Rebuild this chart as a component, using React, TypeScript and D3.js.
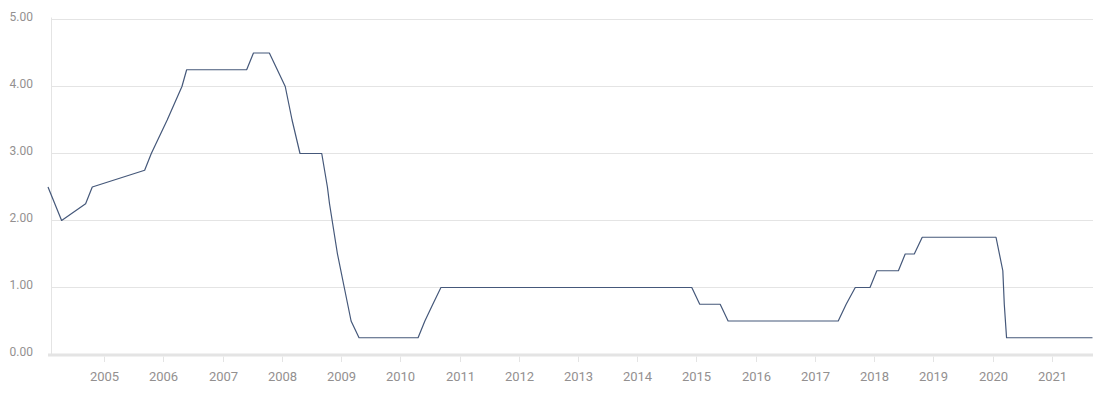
import React from "react";
import * as d3 from "d3";

const rateDates: string[] = [
  "2004-01-20", "2004-04-13", "2004-09-08", "2004-10-19", "2005-09-07", "2005-10-18",
  "2006-01-24", "2006-04-25", "2006-05-24", "2007-05-29", "2007-07-10", "2007-10-16",
  "2008-01-22", "2008-03-04", "2008-04-22", "2008-09-03", "2008-10-08", "2008-10-21",
  "2008-12-09", "2009-01-20", "2009-03-03", "2009-04-21", "2010-04-20", "2010-06-01",
  "2010-07-20", "2010-09-08", "2014-12-03", "2015-01-21", "2015-05-27", "2015-07-15",
  "2017-05-24", "2017-07-12", "2017-09-06", "2017-12-06", "2018-01-17", "2018-05-30",
  "2018-07-11", "2018-09-05", "2018-10-24", "2020-01-22", "2020-03-04", "2020-03-13",
  "2020-03-27", "2021-09-08",
];
const rateValues: number[] = [
  2.5, 2.0, 2.25, 2.5, 2.75, 3.0,
  3.5, 4.0, 4.25, 4.25, 4.5, 4.5,
  4.0, 3.5, 3.0, 3.0, 2.5, 2.25,
  1.5, 1.0, 0.5, 0.25, 0.25, 0.5,
  0.75, 1.0, 1.0, 0.75, 0.75, 0.5,
  0.5, 0.75, 1.0, 1.0, 1.25, 1.25,
  1.5, 1.5, 1.75, 1.75, 1.25, 0.75,
  0.25, 0.25,
];
const yTicks: number[] = [0, 1, 2, 3, 4, 5];
const xTickYears: number[] = [2005, 2006, 2007, 2008, 2009, 2010, 2011, 2012, 2013, 2014, 2015, 2016, 2017, 2018, 2019, 2020, 2021];

const W = 1120;
const H = 415;

export default function App() {
  const parse = d3.utcParse("%Y-%m-%d");
  const data = rateDates.map((d, i) => ({ date: parse(d) as Date, value: rateValues[i] }));

  const x = d3
    .scaleUtc()
    .domain([parse("2004-01-20") as Date, parse("2021-09-08") as Date])
    .range([48, 1092.5]);
  const y = d3.scaleLinear().domain([0, 5]).range([354.5, 19.5]);

  const line = d3
    .line<{ date: Date; value: number }>()
    .x((d) => x(d.date))
    .y((d) => y(d.value));

  const gridColor = "#e4e4e4";
  const labelColor = "#939090";
  const font = "Roboto, 'Noto Sans', sans-serif";

  return (
    <svg
      width={W}
      height={H}
      style={{ position: "absolute", left: 0, top: 0, background: "#fff" }}
    >
      {yTicks.filter((t) => t > 0).map((t) => (
        <line key={"g" + t} x1={51.5} x2={1093} y1={y(t)} y2={y(t)} stroke={gridColor} strokeWidth={1.2} />
      ))}
      <line x1={51.5} x2={51.5} y1={17.5} y2={355} stroke={gridColor} strokeWidth={1} />
      <line x1={48} x2={1093} y1={355} y2={355} stroke={gridColor} strokeWidth={3} />
      {xTickYears.map((yr) => {
        const xx = Math.round(x(new Date(Date.UTC(yr, 0, 1)))) + 0.5;
        return (
          <g key={"x" + yr}>
            <line x1={xx} x2={xx} y1={356.5} y2={362} stroke={gridColor} strokeWidth={1} />
            <text
              x={xx}
              y={378}
              textAnchor="middle"
              dominantBaseline="middle"
              fontFamily={font}
              fontSize={13}
              fill={labelColor}
            >
              {yr}
            </text>
          </g>
        );
      })}
      {yTicks.map((t) => (
        <text
          key={"y" + t}
          x={33}
          y={y(t) - 2}
          textAnchor="end"
          dominantBaseline="middle"
          fontFamily={font}
          fontSize={12}
          fill={labelColor}
        >
          {t.toFixed(2)}
        </text>
      ))}
      <path d={line(data) || ""} fill="none" stroke="#45587a" strokeWidth={1.2} strokeLinejoin="round" />
    </svg>
  );
}
